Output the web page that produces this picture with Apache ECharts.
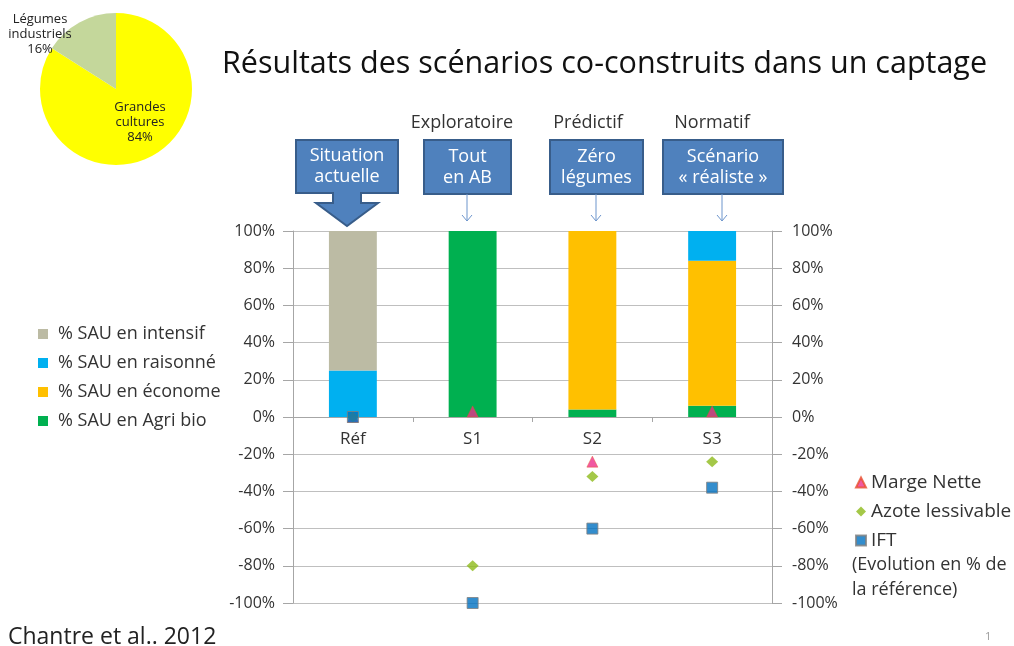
<!DOCTYPE html>
<html>
<head>
<meta charset="utf-8">
<script src="https://cdn.jsdelivr.net/npm/echarts@6/dist/echarts.min.js"></script>
<style>
  html, body { margin: 0; padding: 0; background: #fff; }
  #main { width: 1014px; height: 646px; }
</style>
</head>
<body>
<div id="main"></div>
<script>
// scénarios
var categories = ['Réf', 'S1', 'S2', 'S3'];
var agriBio = [0, 100, 4, 6];
var econome = [0, 0, 96, 78];
var raisonne = [25, 0, 0, 16];
var intensif = [75, 0, 0, 0];
// évolution en % de la référence
var margeNette = [0, 3, -24, 3];
var azote = [0, -80, -32, -24];
var ift = [0, -100, -60, -38];
// petit camembert
var pieNames = ['Grandes cultures', 'Légumes industriels'];
var pieValues = [84, 16];

var FONT = '"Open Sans", "Noto Sans", sans-serif';
var TXT = '#333333';

var chartDom = document.getElementById('main');
var myChart = echarts.init(chartDom);

var gridTop = 231, gridBottom = 43;
var gridH = 646 - gridTop - gridBottom;

// encadrés bleus au-dessus du graphique
function box(x, y, w, h, l1, l2) {
    return [
        {type: 'rect', shape: {x: x, y: y, width: w, height: h},
         style: {fill: '#4F81BD', stroke: '#385D8A', lineWidth: 2}},
        {type: 'text', style: {text: l1 + '\n' + l2, x: x + w / 2, y: y + h / 2,
         textAlign: 'center', textVerticalAlign: 'middle', fill: '#fff',
         font: '18px ' + FONT, lineHeight: 21}}
    ];
}
function thinArrow(x) {
    return [
        {type: 'line', shape: {x1: x, y1: 194, x2: x, y2: 221}, style: {stroke: '#6D95CC', lineWidth: 1}},
        {type: 'polyline', shape: {points: [[x - 5, 215], [x, 221], [x + 5, 215]]}, style: {stroke: '#6D95CC', lineWidth: 1, fill: null}}
    ];
}

var graphics = [];
graphics.push({type: 'polygon', shape: {points: [[296, 140], [398, 140], [398, 193], [361, 193], [361, 203], [378, 203],
    [347, 226], [316, 203], [333, 203], [333, 193], [296, 193]]},
    style: {fill: '#4F81BD', stroke: '#385D8A', lineWidth: 2}});
graphics.push({type: 'text', style: {text: 'Situation\nactuelle', x: 347, y: 166, textAlign: 'center',
    textVerticalAlign: 'middle', fill: '#fff', font: '18px ' + FONT, lineHeight: 21}});
graphics = graphics.concat(box(424, 140, 87, 54, 'Tout', 'en AB'));
graphics = graphics.concat(box(550, 140, 93, 54, 'Zéro', 'légumes'));
graphics = graphics.concat(box(663, 140, 120, 54, 'Scénario', '« réaliste »'));
graphics = graphics.concat(thinArrow(467), thinArrow(596), thinArrow(722));

[['Exploratoire', 462], ['Prédictif', 588], ['Normatif', 712]].forEach(function (h) {
    graphics.push({type: 'text', style: {text: h[0], x: h[1], y: 123, textAlign: 'center',
        textVerticalAlign: 'middle', fill: TXT, font: '18px ' + FONT}});
});
graphics.push({type: 'text', style: {text: '(Evolution en % de\nla référence)', x: 852, y: 577,
    textVerticalAlign: 'middle', fill: TXT, font: '18px ' + FONT, lineHeight: 25}});
graphics.push({type: 'text', style: {text: 'Chantre et al.. 2012', x: 8, y: 637,
    textVerticalAlign: 'middle', fill: '#222', font: '23px ' + FONT}});
graphics.push({type: 'text', style: {text: '1', x: 985, y: 637,
    textVerticalAlign: 'middle', fill: '#999', font: '11px ' + FONT}});

var barSeries = function (name, data, color) {
    return {name: name, type: 'bar', stack: 'sau', data: data, barWidth: '40%',
        itemStyle: {color: color}, z: 2};
};

var option = {
    animation: false,
    textStyle: {fontFamily: FONT},
    title: {
        text: 'Résultats des scénarios co-construits dans un captage',
        left: 217, top: 44,
        textStyle: {fontSize: 30.5, fontWeight: 'normal', color: '#111', fontFamily: FONT}
    },
    legend: [
        {
            orient: 'vertical', left: 33, top: 320, itemGap: 11,
            icon: 'rect', itemWidth: 10, itemHeight: 10,
            textStyle: {fontSize: 18, color: TXT, fontFamily: FONT, padding: [0, 0, 0, 5]},
            data: ['% SAU en intensif', '% SAU en raisonné', '% SAU en économe', '% SAU en Agri bio']
        },
        {
            orient: 'vertical', left: 850, top: 468, itemGap: 10,
            itemWidth: 10, itemHeight: 10,
            textStyle: {fontSize: 19, color: TXT, fontFamily: FONT},
            data: [
                {name: 'Marge Nette', icon: 'triangle'},
                {name: 'Azote lessivable', icon: 'diamond'},
                {name: 'IFT', icon: 'rect'}
            ]
        }
    ],
    grid: {left: 293, right: 242, top: gridTop, bottom: gridBottom},
    xAxis: {
        type: 'category', data: categories,
        position: 'bottom', offset: -gridH / 2,
        axisLine: {onZero: false, lineStyle: {color: '#A6A6A6'}},
        axisTick: {show: true, length: 5, lineStyle: {color: '#A6A6A6'}},
        axisLabel: {fontSize: 17, color: TXT, margin: 14}
    },
    yAxis: [
        {
            type: 'value', min: -100, max: 100, interval: 20, position: 'left',
            axisLine: {show: true, lineStyle: {color: '#A6A6A6'}},
            axisTick: {show: true, length: 10, inside: false, lineStyle: {color: '#A6A6A6'}},
            axisLabel: {formatter: '{value}%', fontSize: 16, color: TXT, margin: 18},
            splitLine: {lineStyle: {color: '#BFBFBF'}}
        },
        {
            type: 'value', min: -100, max: 100, interval: 20, position: 'right',
            axisLine: {show: true, lineStyle: {color: '#A6A6A6'}},
            axisTick: {show: true, length: 10, lineStyle: {color: '#A6A6A6'}},
            axisLabel: {formatter: '{value}%', fontSize: 16, color: TXT, margin: 20},
            splitLine: {show: false}
        }
    ],
    series: [
        barSeries('% SAU en Agri bio', agriBio, '#00B050'),
        barSeries('% SAU en économe', econome, '#FFC000'),
        barSeries('% SAU en raisonné', raisonne, '#00B0F0'),
        barSeries('% SAU en intensif', intensif, '#BCBBA4'),
        {name: 'Marge Nette', type: 'scatter', data: margeNette, symbol: 'triangle', symbolSize: 11,
            itemStyle: {color: '#EC2F8B', borderColor: '#E8502E', borderWidth: 0.6}, z: 5},
        {name: 'Azote lessivable', type: 'scatter', data: azote, symbol: 'diamond', symbolSize: [12, 11],
            itemStyle: {color: '#8DBA1A'}, z: 6},
        {name: 'IFT', type: 'scatter', data: ift, symbol: 'rect', symbolSize: 11,
            itemStyle: {color: '#0070C0', borderColor: '#7F7F7F', borderWidth: 1}, z: 7},
        {
            name: 'SAU', type: 'pie', center: [116, 89], radius: 76, startAngle: 90,
            data: pieNames.map(function (n, i) { return {name: n, value: pieValues[i]}; }),
            color: ['#FFFF00', '#C4D79B'],
            label: {
                position: 'inside', fontSize: 13, lineHeight: 15, color: '#222', fontFamily: FONT,
                formatter: function (p) { return p.name.replace(' ', '\n') + '\n' + p.value + '%'; }
            },
            labelLine: {show: false},
            labelLayout: function (p) {
                if (p.dataIndex === 1) return {x: 40, y: 34, align: 'center', verticalAlign: 'middle'};
                return {x: 140, y: 122, align: 'center', verticalAlign: 'middle'};
            },
            emphasis: {disabled: true}
        }
    ],
    graphic: graphics
};

option && myChart.setOption(option);
</script>
</body>
</html>
